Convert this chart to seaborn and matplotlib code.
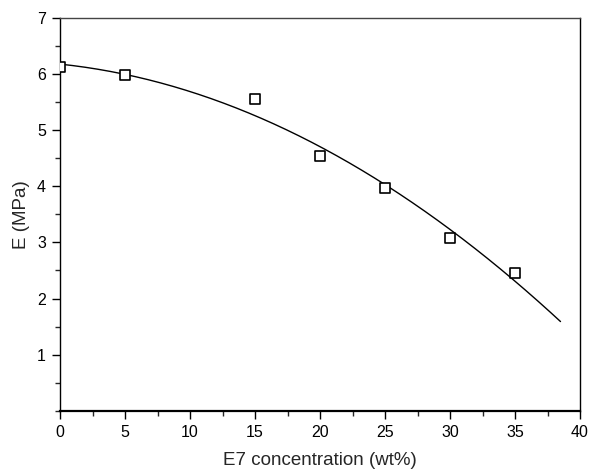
import numpy as np
import pandas as pd
import matplotlib
matplotlib.use("Agg")
import matplotlib.pyplot as plt
from matplotlib.ticker import MultipleLocator, FixedLocator
import seaborn as sns

# Measured Young's modulus vs. E7 content
concentration = [0, 5, 15, 20, 25, 30, 35]
modulus = [6.13, 5.98, 5.56, 4.54, 3.97, 3.08, 2.45]
fit_end = 38.5

sns.set_theme(style="ticks")
plt.rcParams["font.family"] = ["Liberation Sans", "DejaVu Sans"]

df = pd.DataFrame({"c": concentration, "E": modulus})

# Second-order polynomial fit of the measurements
coef = np.polyfit(concentration, modulus, 2)
xf = np.linspace(0, fit_end, 200)
fit = pd.DataFrame({"c": xf, "E": np.polyval(coef, xf)})

fig = plt.figure(figsize=(5.9, 4.69), dpi=100)
ax = fig.add_axes([60 / 590, 1 - 410.7 / 469, 520 / 590, (410.7 - 18) / 469])

sns.lineplot(data=fit, x="c", y="E", ax=ax, color="black", linewidth=1.0)
sns.scatterplot(data=df, x="c", y="E", ax=ax, marker="s", s=45,
                facecolor="white", edgecolor="black", linewidth=1.2, zorder=5)

ax.set_xlim(0, 40)
ax.set_ylim(0, 7)
ax.xaxis.set_major_locator(MultipleLocator(5))
ax.xaxis.set_minor_locator(MultipleLocator(2.5))
ax.yaxis.set_major_locator(FixedLocator([1, 2, 3, 4, 5, 6, 7]))
ax.yaxis.set_minor_locator(MultipleLocator(0.5))

ax.tick_params(which="major", direction="out", length=6, width=1, labelsize=11.5,
               colors="black", pad=4)
ax.tick_params(which="minor", direction="out", length=3.5, width=1)
ax.tick_params(top=False, right=False, which="both")

for side in ["left", "right", "top", "bottom"]:
    ax.spines[side].set_color("black")
    ax.spines[side].set_linewidth(1.0)
ax.spines["bottom"].set_linewidth(1.6)
ax.spines["top"].set_color("#444444")

ax.set_xlabel("E7 concentration (wt%)", fontsize=13.5, labelpad=9)
ax.set_ylabel("E (MPa)", fontsize=13.5, labelpad=5)
ax.grid(False)

fig.savefig("out.png", dpi=100)
